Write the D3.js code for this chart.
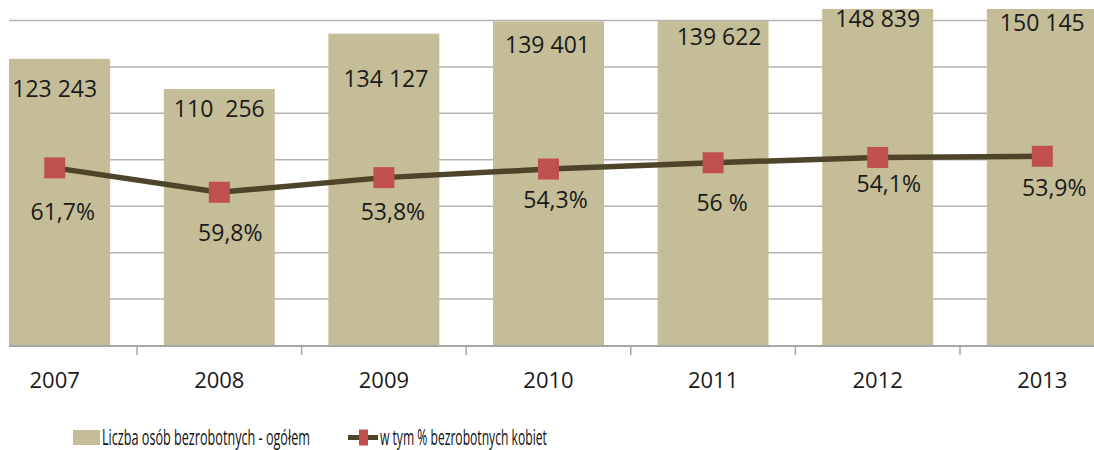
<!DOCTYPE html>
<html>
<head>
<meta charset="utf-8">
<script src="https://cdn.jsdelivr.net/npm/d3@7.9.0/dist/d3.min.js"></script>
<style>
  body { margin: 0; background: #fff; }
  svg { display: block; font-family: "Open Sans", sans-serif; }
</style>
</head>
<body>
<svg width="1094" height="450"></svg>
<script>
// data
const years = ["2007", "2008", "2009", "2010", "2011", "2012", "2013"];
const totals = [123243, 110256, 134127, 139401, 139622, 148839, 150145];
const totalLabels = ["123 243", "110  256", "134 127", "139 401", "139 622", "148 839", "150 145"];
// the line is drawn on the same axis (women count), labelled with the share
const women = [76300, 65800, 72100, 75800, 78500, 80800, 81300];
const shareLabels = ["61,7%", "59,8%", "53,8%", "54,3%", "56 %", "54,1%", "53,9%"];
const yTicks = [20000, 40000, 60000, 80000, 100000, 120000, 140000];

// labels were dragged around by hand in the original, so keep the nudges here
const totalNudge = [[0, 38], [0, 28], [2, 53], [-1, 32], [6, 24], [0, 28], [0, 35]];
const shareNudge = [[8, 52], [11, 49], [9, 42], [7, 39], [9, 48], [11, 35], [12, 40]];

const svg = d3.select("svg");
const plot = { left: 9, top: 9, right: 1094, bottom: 345 };

const x = d3.scaleBand()
    .domain(years)
    .range([-27.6, 1124.6])
    .paddingInner(0.326)
    .paddingOuter(0.163);

const y = d3.scaleLinear().domain([0, 140000]).range([345, 20]);

svg.append("clipPath").attr("id", "clip")
  .append("rect")
    .attr("x", plot.left).attr("y", plot.top)
    .attr("width", plot.right - plot.left)
    .attr("height", plot.bottom - plot.top);

const g = svg.append("g").attr("clip-path", "url(#clip)");

// gridlines
g.selectAll(".grid")
  .data(yTicks)
  .enter().append("line")
    .attr("x1", plot.left).attr("x2", plot.right)
    .attr("y1", d => y(d) + 0.5).attr("y2", d => y(d) + 0.5)
    .attr("stroke", "#b3b3b3")
    .attr("stroke-width", 1.5);

// bars
g.selectAll(".bar")
  .data(totals)
  .enter().append("rect")
    .attr("x", (d, i) => x(years[i]))
    .attr("y", d => y(d))
    .attr("width", x.bandwidth())
    .attr("height", d => y(0) - y(d))
    .attr("fill", "#c4bd97");

// x axis line + ticks between categories
svg.append("line")
    .attr("x1", plot.left).attr("x2", plot.right)
    .attr("y1", y(0) + 1).attr("y2", y(0) + 1)
    .attr("stroke", "#a6a6a6").attr("stroke-width", 2);

const step = x.step();
svg.selectAll(".xtick")
  .data(years.slice(1))
  .enter().append("line")
    .attr("x1", d => x(d) - step * x.paddingInner() / 2)
    .attr("x2", d => x(d) - step * x.paddingInner() / 2)
    .attr("y1", y(0)).attr("y2", y(0) + 10)
    .attr("stroke", "#a6a6a6").attr("stroke-width", 1.5);

svg.selectAll(".year")
  .data(years)
  .enter().append("text")
    .attr("x", d => x(d) + x.bandwidth() / 2)
    .attr("y", 388)
    .attr("text-anchor", "middle")
    .attr("font-size", 22)
    .attr("fill", "#1a1a1a")
    .text(d => d);

// line + markers
const cx = i => x(years[i]) + x.bandwidth() / 2;
const line = d3.line().x((d, i) => cx(i)).y(d => y(d));

svg.append("path")
    .datum(women)
    .attr("d", line)
    .attr("fill", "none")
    .attr("stroke", "#4d4429")
    .attr("stroke-width", 5.5);

const ms = 21;
svg.selectAll(".marker")
  .data(women)
  .enter().append("rect")
    .attr("x", (d, i) => cx(i) - ms / 2)
    .attr("y", d => y(d) - ms / 2)
    .attr("width", ms).attr("height", ms)
    .attr("fill", "#c0504d");

// labels
svg.selectAll(".total")
  .data(totals)
  .enter().append("text")
    .attr("x", (d, i) => cx(i) + totalNudge[i][0])
    .attr("y", (d, i) => y(d) + totalNudge[i][1])
    .attr("text-anchor", "middle")
    .attr("font-size", 23)
    .attr("fill", "#1a1a1a")
    .style("white-space", "pre")
    .text((d, i) => totalLabels[i]);

svg.selectAll(".share")
  .data(women)
  .enter().append("text")
    .attr("x", (d, i) => cx(i) + shareNudge[i][0])
    .attr("y", (d, i) => y(d) + shareNudge[i][1])
    .attr("text-anchor", "middle")
    .attr("font-size", 23)
    .attr("fill", "#1a1a1a")
    .text((d, i) => shareLabels[i]);

// legend (the original is squeezed sideways, so scale the text to fit)
function squeezedText(parent, x0, baseline, width, str) {
  const t = parent.append("g")
      .attr("transform", `translate(${x0},${baseline})`);
  const txt = t.append("text")
      .attr("font-size", 22)
      .attr("fill", "#111")
      .text(str);
  const w = txt.node().getComputedTextLength();
  txt.attr("transform", `scale(${width / w},1)`);
}

const legend = svg.append("g");
legend.append("rect")
    .attr("x", 73).attr("y", 430)
    .attr("width", 27).attr("height", 15)
    .attr("fill", "#c4bd97");
squeezedText(legend, 102, 445, 208, "Liczba osób bezrobotnych - ogółem");

legend.append("line")
    .attr("x1", 348).attr("x2", 378)
    .attr("y1", 437.5).attr("y2", 437.5)
    .attr("stroke", "#4d4429").attr("stroke-width", 5);
legend.append("rect")
    .attr("x", 359).attr("y", 429.5)
    .attr("width", 9).attr("height", 16)
    .attr("fill", "#c0504d");
squeezedText(legend, 380, 445, 167, "w tym % bezrobotnych kobiet");
</script>
</body>
</html>
